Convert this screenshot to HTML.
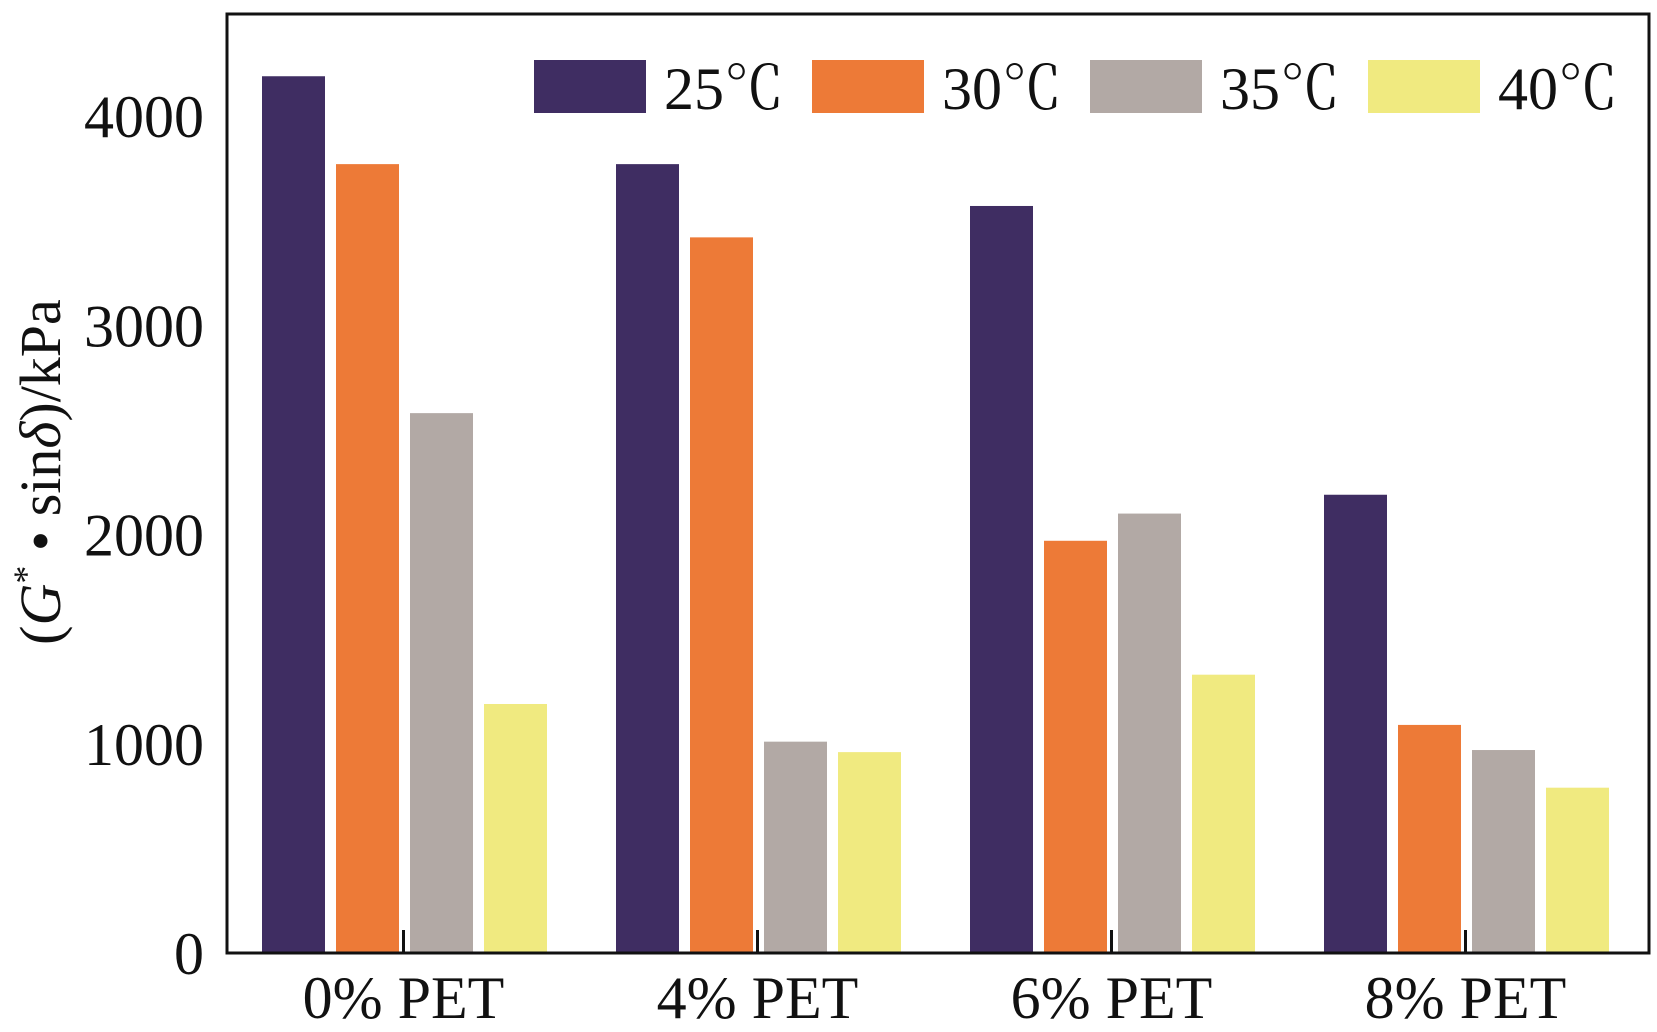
<!DOCTYPE html>
<html><head><meta charset="utf-8"><style>
html,body{margin:0;padding:0;background:#fff;}
svg{display:block;}
text{font-family:"Liberation Serif","Times New Roman","Noto Serif CJK SC",serif;fill:#111;}
</style></head><body>
<svg id="chart" width="1657" height="1032" viewBox="0 0 1657 1032" xmlns="http://www.w3.org/2000/svg">
<g id="bars"></g>
<rect x="227" y="14" width="1422" height="939" fill="none" stroke="#111" stroke-width="3"/>
<g id="axes"></g>
<g id="legend"></g>
<text transform="translate(60,472) rotate(-90)" text-anchor="middle" font-size="58">(<tspan font-style="italic">G</tspan><tspan font-size="36" dy="-22">*</tspan><tspan dy="22"> • sin</tspan><tspan font-style="italic">δ</tspan>)/kPa</text>
</svg>
<script>
const categories = ["0% PET","4% PET","6% PET","8% PET"];
const seriesNames = ["25℃","30℃","35℃","40℃"];
const s25 = [4190,3770,3570,2190];
const s30 = [3770,3420,1970,1090];
const s35 = [2580,1010,2100,970];
const s40 = [1190,960,1330,790];
const yTicks = [0,1000,2000,3000,4000];
const series=[s25,s30,s35,s40];
const colors=["#3f2d62","#ed7a37","#b2a9a5","#f0ea80"];
const NS="http://www.w3.org/2000/svg";
const x0=227,y0=953,pxPer=(953-116)/4000;
const yScale=v=>y0-v*pxPer;
const groupX=i=>262+i*354;
const barW=63,barStep=74;
function mk(tag,attrs,parent){const e=document.createElementNS(NS,tag);for(const k in attrs)e.setAttribute(k,attrs[k]);parent.appendChild(e);return e;}
const bars=document.getElementById('bars');
categories.forEach((c,i)=>{series.forEach((s,j)=>{
  const r=mk('rect',{x:groupX(i)+j*barStep,y:yScale(s[i]),width:barW,height:y0-yScale(s[i]),fill:colors[j]},bars);
  
  
});});
const axes=document.getElementById('axes');
yTicks.forEach(t=>{
  const tx=mk('text',{x:204,y:yScale(t)+21,'text-anchor':'end','font-size':60},axes);
  tx.textContent=t;
  
  
});
categories.forEach((c,i)=>{
  const cx=groupX(i)+barStep*2-(barStep-barW)/2-1;
  const l=mk('line',{x1:cx,x2:cx,y1:930,y2:953,stroke:'#111','stroke-width':3},axes);
  
  
  const tx=mk('text',{x:cx,y:1018,'text-anchor':'middle','font-size':60},axes);
  tx.textContent=c;
  
  
});
const lg=document.getElementById('legend');
seriesNames.forEach((n,j)=>{
  const r=mk('rect',{x:534+j*278,y:60,width:112,height:53,fill:colors[j]},lg);
  
  
  const t=mk('text',{x:664+j*278,y:109,'font-size':60},lg);
  t.textContent=n;
  
  
});
</script>
</body></html>
